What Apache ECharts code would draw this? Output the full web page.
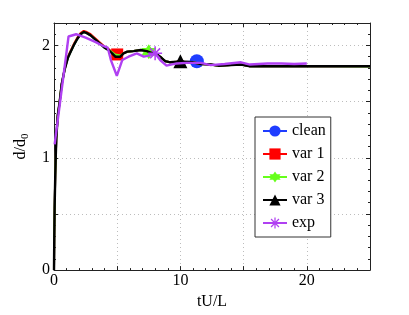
<!DOCTYPE html>
<html>
<head>
<meta charset="utf-8">
<script src="https://cdn.jsdelivr.net/npm/echarts@6/dist/echarts.min.js"></script>
<style>html,body{margin:0;padding:0;background:#fff}#c{width:409px;height:315px}</style>
</head>
<body>
<div id="c"></div>
<script>
// ---- data ----
const seriesNames = ['clean', 'var 1', 'var 2', 'var 3', 'exp'];
const markerX = [11.3, 5, 7.5, 10, 8];

const cleanX = [0, 0.02, 0.05, 0.1, 0.18, 0.3, 0.45, 0.6, 0.85, 1.1, 1.3, 1.6, 1.85, 2.1, 2.35, 2.6, 2.9, 3.3, 3.7, 4.0, 4.3, 4.6, 4.85, 5.0, 5.25, 5.5, 5.8, 6.3, 6.85, 7.35, 7.7, 8.15, 8.5, 8.8, 9.2, 9.7, 10.3, 11.0, 11.3, 11.6, 12.4, 13.0, 14.0, 14.8, 15.5, 16.5, 18, 20, 22, 25];
const cleanY = [0, 0.28, 0.55, 0.85, 1.17, 1.38, 1.5, 1.65, 1.79, 1.89, 1.94, 2.01, 2.06, 2.1, 2.12, 2.11, 2.09, 2.05, 2.01, 1.98, 1.96, 1.93, 1.9, 1.89, 1.9, 1.93, 1.945, 1.95, 1.96, 1.95, 1.935, 1.92, 1.89, 1.86, 1.85, 1.855, 1.855, 1.855, 1.86, 1.84, 1.83, 1.82, 1.825, 1.83, 1.815, 1.815, 1.815, 1.815, 1.815, 1.815];

const var1X = [0, 0.02, 0.05, 0.1, 0.18, 0.3, 0.45, 0.6, 0.85, 1.1, 1.3, 1.6, 1.85, 2.1, 2.35, 2.6, 2.9, 3.3, 3.7, 4.0, 4.3, 4.6, 4.85, 5.0, 5.25, 5.5, 5.8, 6.3, 6.85, 7.35, 7.7, 8.15, 8.5, 8.8, 9.2, 9.7, 10.3, 11.0, 11.6, 12.4, 13.0, 14.0, 14.8, 15.5, 16.5, 18, 20, 22, 25];
const var1Y = [0, 0.28, 0.55, 0.85, 1.17, 1.38, 1.5, 1.65, 1.79, 1.9, 1.95, 2.02, 2.07, 2.11, 2.13, 2.12, 2.1, 2.06, 2.02, 1.99, 1.97, 1.94, 1.92, 1.92, 1.92, 1.93, 1.945, 1.95, 1.96, 1.95, 1.935, 1.92, 1.89, 1.86, 1.85, 1.855, 1.855, 1.85, 1.835, 1.83, 1.82, 1.825, 1.83, 1.815, 1.815, 1.815, 1.815, 1.815, 1.815];

const var2X = [0, 0.02, 0.05, 0.1, 0.18, 0.3, 0.45, 0.6, 0.85, 1.1, 1.3, 1.6, 1.85, 2.1, 2.35, 2.6, 2.9, 3.3, 3.7, 4.0, 4.3, 4.6, 4.85, 5.0, 5.25, 5.5, 5.8, 6.3, 6.85, 7.35, 7.5, 7.7, 8.15, 8.5, 8.8, 9.2, 9.7, 10.3, 11.0, 11.6, 12.4, 13.0, 14.0, 14.8, 15.5, 16.5, 18, 20, 22, 25];
const var2Y = [0, 0.28, 0.55, 0.85, 1.17, 1.38, 1.5, 1.65, 1.79, 1.89, 1.94, 2.01, 2.06, 2.1, 2.12, 2.11, 2.09, 2.05, 2.01, 1.98, 1.96, 1.94, 1.92, 1.91, 1.91, 1.93, 1.945, 1.95, 1.96, 1.95, 1.945, 1.935, 1.92, 1.89, 1.86, 1.85, 1.855, 1.855, 1.85, 1.835, 1.83, 1.82, 1.825, 1.83, 1.815, 1.815, 1.815, 1.815, 1.815, 1.813];

const var3X = [0, 0.02, 0.05, 0.1, 0.18, 0.3, 0.45, 0.6, 0.85, 1.1, 1.3, 1.6, 1.85, 2.1, 2.35, 2.6, 2.9, 3.3, 3.7, 4.0, 4.3, 4.6, 4.85, 5.0, 5.25, 5.5, 5.8, 6.3, 6.85, 7.35, 7.7, 8.15, 8.5, 8.8, 9.2, 9.7, 10.0, 10.3, 11.0, 11.6, 12.4, 13.0, 14.0, 14.8, 15.5, 16.5, 18, 20, 22, 25];
const var3Y = [0, 0.28, 0.55, 0.85, 1.17, 1.38, 1.5, 1.65, 1.79, 1.89, 1.94, 2.01, 2.06, 2.1, 2.12, 2.11, 2.09, 2.05, 2.01, 1.98, 1.96, 1.93, 1.9, 1.89, 1.9, 1.93, 1.945, 1.95, 1.96, 1.95, 1.935, 1.92, 1.89, 1.86, 1.85, 1.855, 1.86, 1.855, 1.85, 1.835, 1.83, 1.82, 1.825, 1.83, 1.815, 1.815, 1.815, 1.815, 1.815, 1.815];

const expX = [0.05, 1.15, 1.75, 2.5, 3.3, 3.8, 4.25, 4.5, 4.97, 5.4, 5.9, 6.55, 7.1, 7.5, 8.0, 8.4, 8.9, 9.7, 10.5, 11.6, 12.4, 13.5, 14.8, 15.5, 16.9, 18, 19, 20];
const expY = [1.12, 2.08, 2.1, 2.07, 2.03, 2.0, 1.98, 1.87, 1.73, 1.87, 1.9, 1.93, 1.9, 1.91, 1.93, 1.87, 1.82, 1.84, 1.845, 1.845, 1.825, 1.835, 1.85, 1.83, 1.84, 1.84, 1.835, 1.84];

const xTicks = [0, 10, 20];
const yTicks = [0, 1, 2];

// ---- chart ----
const xs = [cleanX, var1X, var2X, var3X, expX];
const ys = [cleanY, var1Y, var2Y, var3Y, expY];
const colors = ['#1f3dff', '#ff0000', '#66ff1a', '#000000', '#b040f2'];
const hexagram = 'path://M0,-10 L2.89,-5 L8.66,-5 L5.77,0 L8.66,5 L2.89,5 L0,10 L-2.89,5 L-8.66,5 L-5.77,0 L-8.66,-5 L-2.89,-5 Z';
const asterisk = 'path://M-10,-1.1 L10,-1.1 L10,1.1 L-10,1.1 Z M-1.1,-10 L1.1,-10 L1.1,10 L-1.1,10 Z M-7.85,-6.29 L-6.29,-7.85 L7.85,6.29 L6.29,7.85 Z M-6.29,7.85 L-7.85,6.29 L6.29,-7.85 L7.85,-6.29 Z';
const symbols = ['circle', 'rect', hexagram, 'triangle', asterisk];
const sizes = [14, 12, 15, 14, 14];
const widths = [2, 2, 2, 2.4, 2.4];

const series = seriesNames.map((name, i) => ({
  name: name,
  type: 'line',
  data: xs[i].map((x, j) => [x, ys[i][j]]),
  symbol: symbols[i],
  showSymbol: true,
  symbolSize: (v) => (v[0] === markerX[i] ? sizes[i] : 0),
  lineStyle: { color: colors[i], width: widths[i] },
  itemStyle: { color: colors[i] },
  animation: false,
  z: 2 + i,
  emphasis: { disabled: true }
}));

const font = '"Liberation Serif", "Times New Roman", serif';
const chart = echarts.init(document.getElementById('c'), null, { renderer: 'canvas' });
const axisLineStyle = { show: true, onZero: false, lineStyle: { color: '#222', width: 1 } };
const tickStyle = { show: true, inside: true, length: 4, lineStyle: { color: '#222' } };
const minorStyle = { show: true, splitNumber: 5, length: 2, lineStyle: { color: '#222' } };
const gridLine = { show: true, lineStyle: { color: '#bdbdbd', type: [1, 3], width: 1 } };
chart.setOption({
  backgroundColor: '#fff',
  animation: false,
  textStyle: { fontFamily: font, color: '#000' },
  grid: { left: 54, right: 39, top: 23, bottom: 36, show: false },
  legend: {
    orient: 'vertical',
    left: 255,
    top: 117,
    itemWidth: 24,
    itemHeight: 14,
    itemGap: 7,
    padding: [6, 5, 6, 7],
    backgroundColor: '#fff',
    borderColor: '#333',
    borderWidth: 1,
    borderRadius: 0,
    textStyle: { fontFamily: font, fontSize: 16, color: '#000' },
    data: seriesNames
  },
  xAxis: [{
    type: 'value', min: 0, max: 25, interval: 5,
    name: 'tU/L', nameLocation: 'middle', nameGap: 16,
    nameTextStyle: { fontFamily: font, fontSize: 16, color: '#000' },
    axisLine: axisLineStyle, axisTick: tickStyle, minorTick: minorStyle,
    axisLabel: { fontFamily: font, fontSize: 16, color: '#000', margin: 3,
      formatter: (v) => (xTicks.indexOf(v) >= 0 ? String(v) : '') },
    splitLine: gridLine
  }, {
    type: 'value', position: 'top', min: 0, max: 25, interval: 5,
    axisLine: axisLineStyle, axisTick: tickStyle, minorTick: minorStyle,
    axisLabel: { show: false }, splitLine: { show: false }
  }],
  yAxis: [{
    type: 'value', min: 0, max: 2.2, interval: 0.5,
    name: '{a|d/d}{b|0}', nameLocation: 'middle', nameGap: 22, nameRotate: 90,
    nameTextStyle: { fontFamily: font, color: '#000',
      rich: { a: { fontFamily: font, fontSize: 16, color: '#000' },
              b: { fontFamily: font, fontSize: 11, color: '#000', padding: [9, 0, 0, 0] } } },
    axisLine: axisLineStyle, axisTick: tickStyle, minorTick: minorStyle,
    axisLabel: { fontFamily: font, fontSize: 16, color: '#000', margin: 4,
      formatter: (v) => (yTicks.indexOf(v) >= 0 ? String(v) : '') },
    splitLine: gridLine
  }, {
    type: 'value', position: 'right', min: 0, max: 2.2, interval: 0.5,
    axisLine: axisLineStyle, axisTick: tickStyle, minorTick: minorStyle,
    axisLabel: { show: false }, splitLine: { show: false }
  }],
  series: series
});
</script>
</body>
</html>
